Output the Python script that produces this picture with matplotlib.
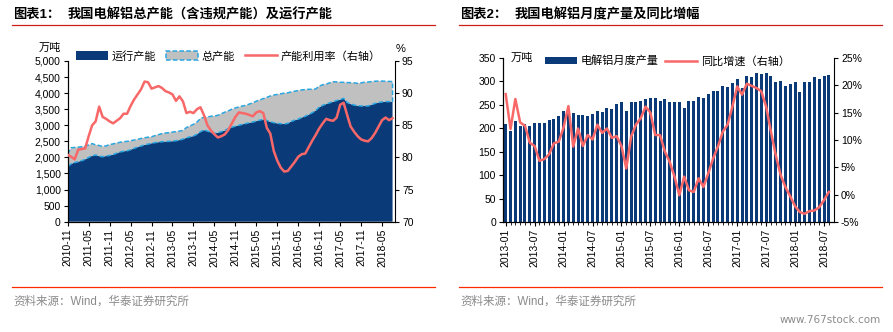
import numpy as np
import matplotlib
matplotlib.use('Agg')
import matplotlib.pyplot as plt
from matplotlib.patches import Rectangle
from matplotlib.lines import Line2D
from matplotlib.ticker import FuncFormatter, MultipleLocator

plt.rcParams['font.family'] = ['Liberation Sans', 'Noto Sans CJK SC']
plt.rcParams['axes.unicode_minus'] = False

# ---- chart 1: capacity, monthly from 2010-11 (万吨 / %) ----
cap_ticks = ['2010-11', '2011-05', '2011-11', '2012-05', '2012-11', '2013-05',
             '2013-11', '2014-05', '2014-11', '2015-05', '2015-11', '2016-05',
             '2016-11', '2017-05', '2017-11', '2018-05']

total_cap = [2120, 2300, 2310, 2320, 2330, 2350, 2390, 2430, 2390, 2370,
             2340, 2360, 2400, 2420, 2450, 2470, 2490, 2500, 2520, 2540,
             2560, 2590, 2610, 2630, 2640, 2680, 2710, 2740, 2760, 2770,
             2790, 2800, 2820, 2840, 2930, 2980, 3030, 3100, 3210, 3250,
             3260, 3280, 3290, 3310, 3360, 3410, 3450, 3500, 3540, 3570,
             3600, 3620, 3660, 3700, 3750, 3790, 3830, 3870, 3910, 3940,
             3960, 3980, 4000, 4010, 4040, 4060, 4080, 4100, 4110, 4120,
             4120, 4130, 4220, 4260, 4280, 4320, 4355, 4350, 4340, 4335,
             4330, 4325, 4320, 4305, 4320, 4340, 4345, 4360, 4370, 4375,
             4375, 4370, 4365, 4360]

run_cap = [1710, 1800, 1840, 1865, 1900, 1940, 2000, 2050, 2075, 2040,
           2020, 2045, 2060, 2090, 2130, 2170, 2190, 2205, 2240, 2280,
           2320, 2355, 2390, 2415, 2440, 2460, 2475, 2490, 2495, 2500,
           2505, 2520, 2540, 2570, 2610, 2640, 2665, 2720, 2800, 2850,
           2820, 2780, 2750, 2770, 2800, 2840, 2900, 2940, 2970, 3000,
           3030, 3055, 3080, 3100, 3130, 3160, 3185, 3150, 3110, 3080,
           3060, 3050, 3040, 3060, 3120, 3160, 3190, 3240, 3280, 3330,
           3390, 3460, 3560, 3620, 3660, 3700, 3730, 3770, 3800, 3840,
           3710, 3660, 3630, 3610, 3600, 3600, 3600, 3640, 3680, 3710,
           3725, 3735, 3735, 3735]

util_rate = [80.4, 80.1, 79.7, 81.2, 81.3, 81.4, 83.3, 85.0, 85.6, 87.9,
             86.3, 86.0, 85.6, 85.3, 85.7, 86.1, 86.8, 86.8, 88.0, 89.0,
             89.8, 90.6, 91.8, 91.7, 90.7, 90.9, 91.1, 90.8, 90.3, 90.1,
             89.8, 88.8, 89.5, 88.7, 86.9, 87.1, 86.9, 87.5, 87.8, 86.6,
             85.0, 84.2, 83.6, 83.1, 83.3, 83.6, 84.3, 85.3, 86.3, 87.0,
             86.9, 86.8, 86.6, 86.4, 87.0, 87.2, 86.9, 84.6, 83.7, 81.0,
             79.5, 78.4, 77.8, 77.9, 78.6, 79.3, 80.1, 80.5, 80.6, 81.6,
             82.6, 83.5, 84.5, 85.3, 86.0, 85.8, 85.7, 86.2, 88.2, 88.5,
             86.6, 84.8, 84.0, 83.3, 82.8, 82.6, 82.5, 83.0, 83.8, 84.8,
             85.8, 86.2, 85.8, 86.1]

# ---- chart 2: monthly output from 2013-01 (万吨) and yoy growth (%) ----
prod_ticks = ['2013-01', '2013-07', '2014-01', '2014-07', '2015-01', '2015-07',
              '2016-01', '2016-07', '2017-01', '2017-07', '2018-01', '2018-07']

output = [209, 195, 216, 204, 209, 205, 211, 211, 211, 218, 220, 227,
          237, 241, 233, 229, 228, 226, 231, 237, 234, 244, 242, 251,
          257, 236, 257, 257, 259, 262, 264, 264, 259, 262, 256, 257,
          256, 243, 259, 258, 266, 265, 274, 279, 279, 291, 288, 296,
          305, 286, 311, 309, 318, 316, 319, 312, 299, 300, 291, 295,
          299, 277, 299, 298, 309, 306, 312, 314]

yoy = [18.4, 12.0, 17.5, 13.2, 12.6, 9.5, 8.9, 6.2, 6.5, 7.4, 9.4, 9.7,
       12.3, 16.2, 8.8, 12.1, 8.9, 10.9, 10.1, 12.8, 11.3, 12.1, 10.4, 10.7,
       8.9, 4.8, 10.6, 12.8, 14.0, 16.1, 15.0, 10.9, 10.9, 7.9, 6.0, 3.3,
       -0.1, 3.3, 0.8, 0.5, 3.0, 1.4, 3.9, 6.6, 8.8, 11.5, 12.8, 16.1,
       19.8, 18.3, 20.3, 19.9, 19.5, 18.9, 16.1, 11.5, 7.2, 3.6, 1.4, -0.3,
       -2.1, -3.2, -3.5, -3.0, -2.9, -2.3, -1.0, 0.5]

NAVY = '#0b3a78'
GREY = '#c0c0c0'
SKY = '#2aa6e0'
SALMON = '#f86868'
TXT = 8
TICK = 7.5

W, H = 893, 332
fig = plt.figure(figsize=(W / 100, H / 100), dpi=100)


def fx(x):
    return x / W


def fy(y):
    return 1 - y / H


# headers, rules and source lines
for x0, num, title in [(13, '图表1：', '我国电解铝总产能（含违规产能）及运行产能'),
                       (460, '图表2：', '我国电解铝月度产量及同比增幅')]:
    fig.text(fx(x0), fy(15), num, fontsize=9.5, fontweight='bold',
             va='center', ha='left')
    fig.text(fx(x0 + 55), fy(15), title, fontsize=9.5, fontweight='bold',
             va='center', ha='left')
    fig.add_artist(Line2D([fx(x0 - 1), fx(x0 + 422)], [fy(25), fy(25)],
                          color='#cc1f1a', lw=0.9))
    fig.add_artist(Line2D([fx(x0 - 1), fx(x0 + 422)], [fy(287), fy(287)],
                          color='#ff2a00', lw=0.9))
    fig.text(fx(x0), fy(302), '资料来源：Wind，华泰证券研究所', fontsize=8.3,
             color='#8a8a8a', va='center', ha='left')
fig.text(fx(881), fy(320), 'www.767stock.com', fontsize=7.5, color='#8a8a8a',
         va='center', ha='right', family='DejaVu Sans')

# ---- chart 1 ----
ax1 = fig.add_axes([fx(67.7), fy(221.7), fx(395 - 67.7), (221.7 - 61) / H])
m1 = np.arange(len(run_cap))
ax1.fill_between(m1, 0, run_cap, facecolor=NAVY, edgecolor='none', zorder=1)
ax1.fill_between(m1, run_cap, total_cap, facecolor=GREY, edgecolor=SKY,
                 linestyle=(0, (3, 1.5)), linewidth=1.1, zorder=2)
ax1.set_xlim(0, 93.7)
ax1.set_ylim(0, 5000)
ax1.yaxis.set_major_locator(MultipleLocator(500))
ax1.yaxis.set_major_formatter(FuncFormatter(lambda v, p: '{:,.0f}'.format(v)))
ax1.set_xticks(np.arange(len(cap_ticks)) * 6)
ax1.set_xticklabels(cap_ticks, rotation=90)
ax1.spines['top'].set_visible(False)
ax1.spines['right'].set_visible(False)
ax1.tick_params(labelsize=TICK, length=3, width=0.8, pad=2)

ax1r = ax1.twinx()
ax1r.plot(m1, util_rate, color=SALMON, lw=1.8, zorder=3)
ax1r.set_ylim(70, 95)
ax1r.yaxis.set_major_locator(MultipleLocator(5))
ax1r.spines['top'].set_visible(False)
ax1r.tick_params(labelsize=TICK, length=3, width=0.8, pad=2)

fig.text(fx(50), fy(48), '万吨', fontsize=TXT, ha='center', va='center')
fig.text(fx(401), fy(49), '%', fontsize=TXT, ha='center', va='center')

h1 = [Rectangle((0, 0), 1, 1, facecolor=NAVY, edgecolor='none'),
      Rectangle((0, 0), 1, 1, facecolor=GREY, edgecolor=SKY,
                linestyle=(0, (3, 1.5)), linewidth=1.1),
      Line2D([], [], color=SALMON, lw=1.8)]
fig.legend(h1, ['运行产能', '总产能', '产能利用率（右轴）'],
           loc='center left', bbox_to_anchor=(fx(76), fy(56)), ncol=3,
           frameon=False, fontsize=TXT, handlelength=2.9, handleheight=0.8,
           handletextpad=0.3, columnspacing=0.9, borderpad=0, borderaxespad=0)

# ---- chart 2 ----
ax2 = fig.add_axes([fx(503), fy(222), fx(834 - 503), (222 - 58) / H])
m2 = np.arange(len(output))
ax2.bar(m2, output, width=0.62, color=NAVY, edgecolor='none', zorder=1)
ax2.set_xlim(-0.56, 68.07)
ax2.set_ylim(0, 350)
ax2.yaxis.set_major_locator(MultipleLocator(50))
ax2.set_xticks(np.arange(len(prod_ticks)) * 6)
ax2.set_xticklabels(prod_ticks, rotation=90)
ax2.set_xticks(m2, minor=True)
ax2.spines['top'].set_visible(False)
ax2.spines['right'].set_visible(False)
ax2.tick_params(labelsize=TICK, length=3, width=0.8, pad=2)
ax2.tick_params(axis='x', which='minor', length=2, width=0.6)

ax2r = ax2.twinx()
ax2r.plot(m2, yoy, color=SALMON, lw=1.8, zorder=3)
ax2r.set_ylim(-5, 25)
ax2r.yaxis.set_major_locator(MultipleLocator(5))
ax2r.yaxis.set_major_formatter(FuncFormatter(lambda v, p: '%d%%' % v))
ax2r.spines['top'].set_visible(False)
ax2r.tick_params(labelsize=TICK, length=3, width=0.8, pad=2)

fig.text(fx(522), fy(58), '万吨', fontsize=TXT, ha='center', va='center')
h2 = [Rectangle((0, 0), 1, 1, facecolor=NAVY, edgecolor='none'),
      Line2D([], [], color=SALMON, lw=1.8)]
fig.legend(h2, ['电解铝月度产量', '同比增速（右轴）'],
           loc='center left', bbox_to_anchor=(fx(545), fy(61)), ncol=2,
           frameon=False, fontsize=TXT, handlelength=2.9, handleheight=0.5,
           handletextpad=0.3, columnspacing=0.6, borderpad=0, borderaxespad=0)

fig.savefig('out.png', dpi=100)
